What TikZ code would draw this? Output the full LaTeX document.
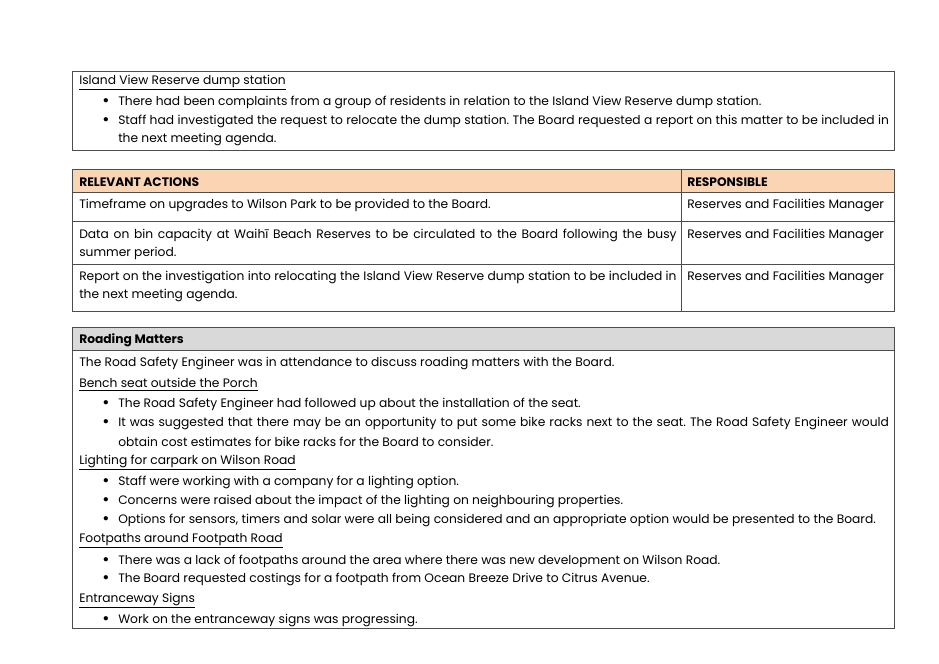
\documentclass[tikz,border=0pt]{standalone}
\usepackage{fontspec}
\setmainfont{Poppins}
\usetikzlibrary{positioning}
\definecolor{peach}{RGB}{251,212,180}
\definecolor{greyhead}{RGB}{217,217,217}
\tikzset{
  txt/.style={anchor=west, inner sep=0pt, yshift=-1.2pt, font=\fontsize{9.2}{11}\selectfont},
  frame/.style={draw=black!70, line width=0.5pt}
}
\frenchspacing
\newcommand{\jl}[2]{\makebox[#1][s]{#2}}
\newcommand{\bl}{{\fontsize{13}{11}\selectfont\textbullet}}
\begin{document}
\begin{tikzpicture}[x=0.75pt,y=-0.75pt]
	\useasboundingbox (0,0) rectangle (939,664);

	% island view box
	\draw[frame] (72,71) rectangle (894,150);
	\node[txt] (iv) at (79,81) {\underline{Island View Reserve dump station}};
	\node[txt] at (102,101) {\bl};
	\node[txt] (iv1) at (118,101) {There had been complaints from a group of residents in relation to the Island View Reserve dump station.};
	\node[txt] at (102,120) {\bl};
	\node[txt] (iv2) at (118,120) {\jl{578pt}{Staff had investigated the request to relocate the dump station. The Board requested a report on this matter to be included in}};
	\node[txt] (iv3) at (118,138) {the next meeting agenda.};

	% actions table
	\fill[peach] (72,169) rectangle (894,192);
	\draw[frame] (72,169) rectangle (894,311);
	\foreach \y in {192,221,264} \draw[frame] (72,\y) -- (894,\y);
	\draw[frame] (681,169) -- (681,311);
	\node[txt] (hd1) at (79,181) {\textbf{RELEVANT ACTIONS}};
	\node[txt] (hd2) at (687,181) {\textbf{RESPONSIBLE}};
	\node[txt] (a1) at (79,204) {Timeframe on upgrades to Wilson Park to be provided to the Board.};
	\node[txt] (r1) at (687,204) {Reserves and Facilities Manager};
	\node[txt] (a2) at (79,234) {\jl{448pt}{Data on bin capacity at Waihī Beach Reserves to be circulated to the Board following the busy}};
	\node[txt] at (79,252) {summer period.};
	\node[txt] (r2) at (687,234) {Reserves and Facilities Manager};
	\node[txt] (a3) at (79,276) {\jl{448pt}{Report on the investigation into relocating the Island View Reserve dump station to be included in}};
	\node[txt] at (79,294) {the next meeting agenda.};
	\node[txt] (r3) at (687,276) {Reserves and Facilities Manager};

	% roading box
	\fill[greyhead] (72,327) rectangle (894,350);
	\draw[frame] (72,327) rectangle (894,628);
	\draw[frame] (72,350) -- (894,350);
	\node[txt] (rm) at (79,339) {\textbf{Roading Matters}};
	\node[txt] at (79,362) {The Road Safety Engineer was in attendance to discuss roading matters with the Board.};
	\node[txt] at (79,383) {\underline{Bench seat outside the Porch}};
	\foreach \y/\t in {403/{The Road Safety Engineer had followed up about the installation of the seat.},
		422/{\jl{578pt}{It was suggested that there may be an opportunity to put some bike racks next to the seat. The Road Safety Engineer would}},
		481/{Staff were working with a company for a lighting option.},
		500/{Concerns were raised about the impact of the lighting on neighbouring properties.},
		519/{Options for sensors, timers and solar were all being considered and an appropriate option would be presented to the Board.},
		560/{There was a lack of footpaths around the area where there was new development on Wilson Road.},
		578/{The Board requested costings for a footpath from Ocean Breeze Drive to Citrus Avenue.},
		619/{Work on the entranceway signs was progressing.}}
	{
		\node[txt] at (102,\y) {\bl};
		\node[txt] at (118,\y) {\t};
	}
	\node[txt] at (118,440) {obtain cost estimates for bike racks for the Board to consider.};
	\node[txt] at (79,461) {\underline{Lighting for carpark on Wilson Road}};
	\node[txt] at (79,539) {\underline{Footpaths around Footpath Road}};
	\node[txt] at (79,599) {\underline{Entranceway Signs}};
\end{tikzpicture}
\end{document}
